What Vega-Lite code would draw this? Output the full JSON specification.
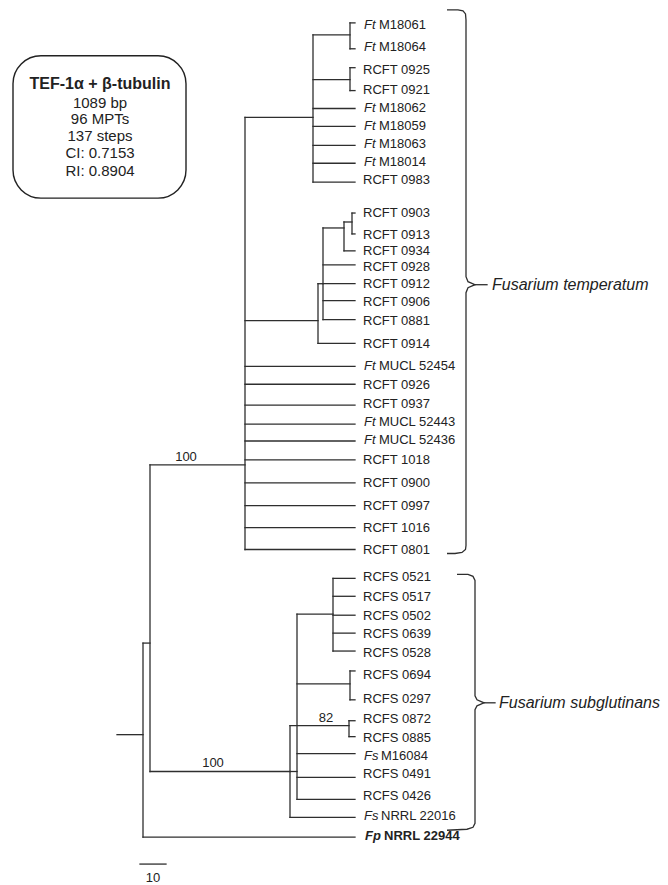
{
  "$schema": "https://vega.github.io/schema/vega-lite/v6.json",
  "width": 668,
  "height": 885,
  "padding": 0,
  "autosize": {"type": "fit", "contains": "padding"},
  "background": "white",
  "config": {"view": {"stroke": null}, "text": {"font": "Liberation Sans", "color": "#222"}},
  "datasets": {
    "segs": [
      {"x":117,"y":738,"x2":143,"y2":738},
      {"x":143,"y":646,"x2":143,"y2":841},
      {"x":143,"y":841,"x2":355,"y2":841},
      {"x":143,"y":646,"x2":150,"y2":646},
      {"x":150,"y":467,"x2":150,"y2":775},
      {"x":150,"y":467,"x2":245,"y2":467},
      {"x":245,"y":118,"x2":245,"y2":552},
      {"x":245,"y":118,"x2":313,"y2":118},
      {"x":313,"y":35,"x2":313,"y2":183},
      {"x":313,"y":35,"x2":350,"y2":35},
      {"x":350,"y":23,"x2":350,"y2":49},
      {"x":350,"y":23,"x2":355,"y2":23},
      {"x":350,"y":49,"x2":355,"y2":49},
      {"x":313,"y":80,"x2":350,"y2":80},
      {"x":350,"y":68,"x2":350,"y2":91},
      {"x":350,"y":68,"x2":355,"y2":68},
      {"x":350,"y":91,"x2":355,"y2":91},
      {"x":313,"y":109,"x2":355,"y2":109},
      {"x":313,"y":127,"x2":355,"y2":127},
      {"x":313,"y":146,"x2":355,"y2":146},
      {"x":313,"y":164,"x2":355,"y2":164},
      {"x":313,"y":183,"x2":355,"y2":183},
      {"x":245,"y":322,"x2":318,"y2":322},
      {"x":318,"y":285,"x2":318,"y2":345},
      {"x":318,"y":345,"x2":355,"y2":345},
      {"x":318,"y":285,"x2":323,"y2":285},
      {"x":323,"y":229,"x2":323,"y2":321},
      {"x":323,"y":229,"x2":344,"y2":229},
      {"x":344,"y":223,"x2":344,"y2":252},
      {"x":344,"y":223,"x2":352,"y2":223},
      {"x":352,"y":214,"x2":352,"y2":235},
      {"x":352,"y":214,"x2":355,"y2":214},
      {"x":352,"y":235,"x2":355,"y2":235},
      {"x":344,"y":252,"x2":355,"y2":252},
      {"x":323,"y":266,"x2":355,"y2":266},
      {"x":323,"y":285,"x2":355,"y2":285},
      {"x":323,"y":302,"x2":355,"y2":302},
      {"x":323,"y":321,"x2":355,"y2":321},
      {"x":245,"y":368,"x2":355,"y2":368},
      {"x":245,"y":386,"x2":355,"y2":386},
      {"x":245,"y":407,"x2":355,"y2":407},
      {"x":245,"y":426,"x2":355,"y2":426},
      {"x":245,"y":443,"x2":355,"y2":443},
      {"x":245,"y":462,"x2":355,"y2":462},
      {"x":245,"y":485,"x2":355,"y2":485},
      {"x":245,"y":508,"x2":355,"y2":508},
      {"x":245,"y":530,"x2":355,"y2":530},
      {"x":245,"y":552,"x2":355,"y2":552},
      {"x":150,"y":775,"x2":290,"y2":775},
      {"x":290,"y":729,"x2":290,"y2":821},
      {"x":290,"y":729,"x2":349,"y2":729},
      {"x":349,"y":724,"x2":349,"y2":740},
      {"x":349,"y":724,"x2":355,"y2":724},
      {"x":349,"y":740,"x2":355,"y2":740},
      {"x":290,"y":775,"x2":297,"y2":775},
      {"x":297,"y":617,"x2":297,"y2":803},
      {"x":297,"y":617,"x2":333,"y2":617},
      {"x":333,"y":581,"x2":333,"y2":654},
      {"x":333,"y":581,"x2":355,"y2":581},
      {"x":333,"y":599,"x2":355,"y2":599},
      {"x":333,"y":618,"x2":355,"y2":618},
      {"x":333,"y":636,"x2":355,"y2":636},
      {"x":333,"y":654,"x2":355,"y2":654},
      {"x":297,"y":687,"x2":350,"y2":687},
      {"x":350,"y":674,"x2":350,"y2":703},
      {"x":350,"y":674,"x2":355,"y2":674},
      {"x":350,"y":703,"x2":355,"y2":703},
      {"x":297,"y":757,"x2":355,"y2":757},
      {"x":297,"y":781,"x2":355,"y2":781},
      {"x":297,"y":803,"x2":355,"y2":803},
      {"x":290,"y":821,"x2":355,"y2":821},
      {"x":475,"y":286,"x2":487,"y2":286},
      {"x":484,"y":706,"x2":495,"y2":706},
      {"x":140,"y":868,"x2":166,"y2":868}
    ],
    "leaves": [
      {"p":"Ft","n":"M18061","x":355,"y":25},
      {"p":"Ft","n":"M18064","x":355,"y":47},
      {"p":"","n":"RCFT 0925","x":355,"y":70},
      {"p":"","n":"RCFT 0921","x":355,"y":90},
      {"p":"Ft","n":"M18062","x":355,"y":108},
      {"p":"Ft","n":"M18059","x":355,"y":127},
      {"p":"Ft","n":"M18063","x":355,"y":145},
      {"p":"Ft","n":"M18014","x":355,"y":163},
      {"p":"","n":"RCFT 0983","x":355,"y":181},
      {"p":"","n":"RCFT 0903","x":355,"y":214},
      {"p":"","n":"RCFT 0913","x":355,"y":236},
      {"p":"","n":"RCFT 0934","x":355,"y":252},
      {"p":"","n":"RCFT 0928","x":355,"y":268},
      {"p":"","n":"RCFT 0912","x":355,"y":285},
      {"p":"","n":"RCFT 0906","x":355,"y":303},
      {"p":"","n":"RCFT 0881","x":355,"y":322},
      {"p":"","n":"RCFT 0914","x":355,"y":346},
      {"p":"Ft","n":"MUCL 52454","x":355,"y":368},
      {"p":"","n":"RCFT 0926","x":355,"y":387},
      {"p":"","n":"RCFT 0937","x":355,"y":406},
      {"p":"Ft","n":"MUCL 52443","x":355,"y":424},
      {"p":"Ft","n":"MUCL 52436","x":355,"y":442},
      {"p":"","n":"RCFT 1018","x":355,"y":462},
      {"p":"","n":"RCFT 0900","x":355,"y":485},
      {"p":"","n":"RCFT 0997","x":355,"y":508},
      {"p":"","n":"RCFT 1016","x":355,"y":530},
      {"p":"","n":"RCFT 0801","x":355,"y":552},
      {"p":"","n":"RCFS 0521","x":355,"y":580},
      {"p":"","n":"RCFS 0517","x":355,"y":600},
      {"p":"","n":"RCFS 0502","x":355,"y":619},
      {"p":"","n":"RCFS 0639","x":355,"y":637},
      {"p":"","n":"RCFS 0528","x":355,"y":656},
      {"p":"","n":"RCFS 0694","x":355,"y":678},
      {"p":"","n":"RCFS 0297","x":355,"y":702},
      {"p":"","n":"RCFS 0872","x":355,"y":722},
      {"p":"","n":"RCFS 0885","x":355,"y":741},
      {"p":"Fs","n":"M16084","x":355,"y":759},
      {"p":"","n":"RCFS 0491","x":355,"y":778},
      {"p":"","n":"RCFS 0426","x":355,"y":800},
      {"p":"Fs","n":"NRRL 22016","x":355,"y":820},
      {"p":"Fp","n":"NRRL 22944","x":355,"y":840}
    ],
    "brackets": [
      {"b":"t","i":0,"x":447,"y":10},
      {"b":"t","i":1,"x":458,"y":10},
      {"b":"t","i":2,"x":463,"y":11},
      {"b":"t","i":3,"x":465.5,"y":14},
      {"b":"t","i":4,"x":466,"y":20},
      {"b":"t","i":5,"x":466,"y":278},
      {"b":"t","i":6,"x":468,"y":283},
      {"b":"t","i":7,"x":475,"y":286},
      {"b":"t","i":8,"x":468,"y":289},
      {"b":"t","i":9,"x":466,"y":294},
      {"b":"t","i":10,"x":466,"y":548},
      {"b":"t","i":11,"x":465.5,"y":552},
      {"b":"t","i":12,"x":462,"y":555},
      {"b":"t","i":13,"x":455,"y":556},
      {"b":"t","i":14,"x":447,"y":556},
      {"b":"s","i":0,"x":457,"y":577},
      {"b":"s","i":1,"x":468,"y":577},
      {"b":"s","i":2,"x":473,"y":579},
      {"b":"s","i":3,"x":475,"y":583},
      {"b":"s","i":4,"x":475,"y":699},
      {"b":"s","i":5,"x":477,"y":703},
      {"b":"s","i":6,"x":484,"y":706},
      {"b":"s","i":7,"x":477,"y":709},
      {"b":"s","i":8,"x":475,"y":713},
      {"b":"s","i":9,"x":475,"y":827},
      {"b":"s","i":10,"x":473,"y":831},
      {"b":"s","i":11,"x":467,"y":833},
      {"b":"s","i":12,"x":447,"y":834}
    ],
    "support": [
      {"x":186,"y":467,"v":"100"},
      {"x":213,"y":775,"v":"100"},
      {"x":326,"y":729,"v":"82"}
    ],
    "species": [
      {"x":492,"y":286,"s":"Fusarium temperatum"},
      {"x":499,"y":706,"s":"Fusarium subglutinans"}
    ],
    "box": [{"x":13,"x2":186,"y":56,"y2":199}],
    "boxtext": [
      {"x":100,"y":103,"t":"1089 bp"},
      {"x":100,"y":120,"t":"96 MPTs"},
      {"x":100,"y":137,"t":"137 steps"},
      {"x":100,"y":154,"t":"CI: 0.7153"},
      {"x":100,"y":172,"t":"RI: 0.8904"}
    ],
    "boxtitle": [{"x":100,"y":84,"t":"TEF-1α + β-tubulin"}],
    "scale": [{"x":153,"y":868,"t":"10"}]
  },
  "layer": [
    {
      "data": {"name": "box"},
      "mark": {"type": "rect", "fill": "white", "stroke": "#222", "strokeWidth": 1.4, "cornerRadius": 28},
      "encoding": {
        "x": {"field": "x", "type": "quantitative", "scale": {"domain": [0, 668], "nice": false, "zero": false}, "axis": null},
        "x2": {"field": "x2"},
        "y": {"field": "y", "type": "quantitative", "scale": {"domain": [0, 885], "nice": false, "zero": false, "reverse": true}, "axis": null},
        "y2": {"field": "y2"}
      }
    },
    {
      "data": {"name": "segs"},
      "mark": {"type": "rule", "color": "#2e2e2e", "strokeWidth": 1.3, "strokeCap": "square"},
      "encoding": {
        "x": {"field": "x", "type": "quantitative"},
        "x2": {"field": "x2"},
        "y": {"field": "y", "type": "quantitative"},
        "y2": {"field": "y2"}
      }
    },
    {
      "data": {"name": "brackets"},
      "mark": {"type": "line", "color": "#2e2e2e", "strokeWidth": 1.3},
      "encoding": {
        "x": {"field": "x", "type": "quantitative"},
        "y": {"field": "y", "type": "quantitative"},
        "order": {"field": "i", "type": "quantitative"},
        "detail": {"field": "b"}
      }
    },
    {
      "data": {"name": "leaves"},
      "transform": [{"filter": "datum.p == ''"}],
      "mark": {"type": "text", "align": "left", "baseline": "middle", "fontSize": 13, "dx": 8},
      "encoding": {
        "x": {"field": "x", "type": "quantitative"},
        "y": {"field": "y", "type": "quantitative"},
        "text": {"field": "n"}
      }
    },
    {
      "data": {"name": "leaves"},
      "transform": [{"filter": "datum.p == 'Ft' || datum.p == 'Fs'"}],
      "mark": {"type": "text", "align": "left", "baseline": "middle", "fontSize": 13, "fontStyle": "italic", "dx": 9},
      "encoding": {
        "x": {"field": "x", "type": "quantitative"},
        "y": {"field": "y", "type": "quantitative"},
        "text": {"field": "p"}
      }
    },
    {
      "data": {"name": "leaves"},
      "transform": [{"filter": "datum.p == 'Ft'"}],
      "mark": {"type": "text", "align": "left", "baseline": "middle", "fontSize": 13, "dx": 24},
      "encoding": {
        "x": {"field": "x", "type": "quantitative"},
        "y": {"field": "y", "type": "quantitative"},
        "text": {"field": "n"}
      }
    },
    {
      "data": {"name": "leaves"},
      "transform": [{"filter": "datum.p == 'Fs'"}],
      "mark": {"type": "text", "align": "left", "baseline": "middle", "fontSize": 13, "dx": 26},
      "encoding": {
        "x": {"field": "x", "type": "quantitative"},
        "y": {"field": "y", "type": "quantitative"},
        "text": {"field": "n"}
      }
    },
    {
      "data": {"name": "leaves"},
      "transform": [{"filter": "datum.p == 'Fp'"}],
      "mark": {"type": "text", "align": "left", "baseline": "middle", "fontSize": 13, "fontStyle": "italic", "fontWeight": "bold", "dx": 10},
      "encoding": {
        "x": {"field": "x", "type": "quantitative"},
        "y": {"field": "y", "type": "quantitative"},
        "text": {"field": "p"}
      }
    },
    {
      "data": {"name": "leaves"},
      "transform": [{"filter": "datum.p == 'Fp'"}],
      "mark": {"type": "text", "align": "left", "baseline": "middle", "fontSize": 13, "fontWeight": "bold", "dx": 29},
      "encoding": {
        "x": {"field": "x", "type": "quantitative"},
        "y": {"field": "y", "type": "quantitative"},
        "text": {"field": "n"}
      }
    },
    {
      "data": {"name": "support"},
      "mark": {"type": "text", "align": "center", "baseline": "middle", "fontSize": 13, "dy": -8},
      "encoding": {
        "x": {"field": "x", "type": "quantitative"},
        "y": {"field": "y", "type": "quantitative"},
        "text": {"field": "v"}
      }
    },
    {
      "data": {"name": "species"},
      "mark": {"type": "text", "align": "left", "baseline": "middle", "fontSize": 16, "fontStyle": "italic"},
      "encoding": {
        "x": {"field": "x", "type": "quantitative"},
        "y": {"field": "y", "type": "quantitative"},
        "text": {"field": "s"}
      }
    },
    {
      "data": {"name": "boxtext"},
      "mark": {"type": "text", "align": "center", "baseline": "middle", "fontSize": 15},
      "encoding": {
        "x": {"field": "x", "type": "quantitative"},
        "y": {"field": "y", "type": "quantitative"},
        "text": {"field": "t"}
      }
    },
    {
      "data": {"name": "boxtitle"},
      "mark": {"type": "text", "align": "center", "baseline": "middle", "fontSize": 16, "fontWeight": "bold"},
      "encoding": {
        "x": {"field": "x", "type": "quantitative"},
        "y": {"field": "y", "type": "quantitative"},
        "text": {"field": "t"}
      }
    },
    {
      "data": {"name": "scale"},
      "mark": {"type": "text", "align": "center", "baseline": "middle", "fontSize": 13, "dy": 14},
      "encoding": {
        "x": {"field": "x", "type": "quantitative"},
        "y": {"field": "y", "type": "quantitative"},
        "text": {"field": "t"}
      }
    }
  ]
}
